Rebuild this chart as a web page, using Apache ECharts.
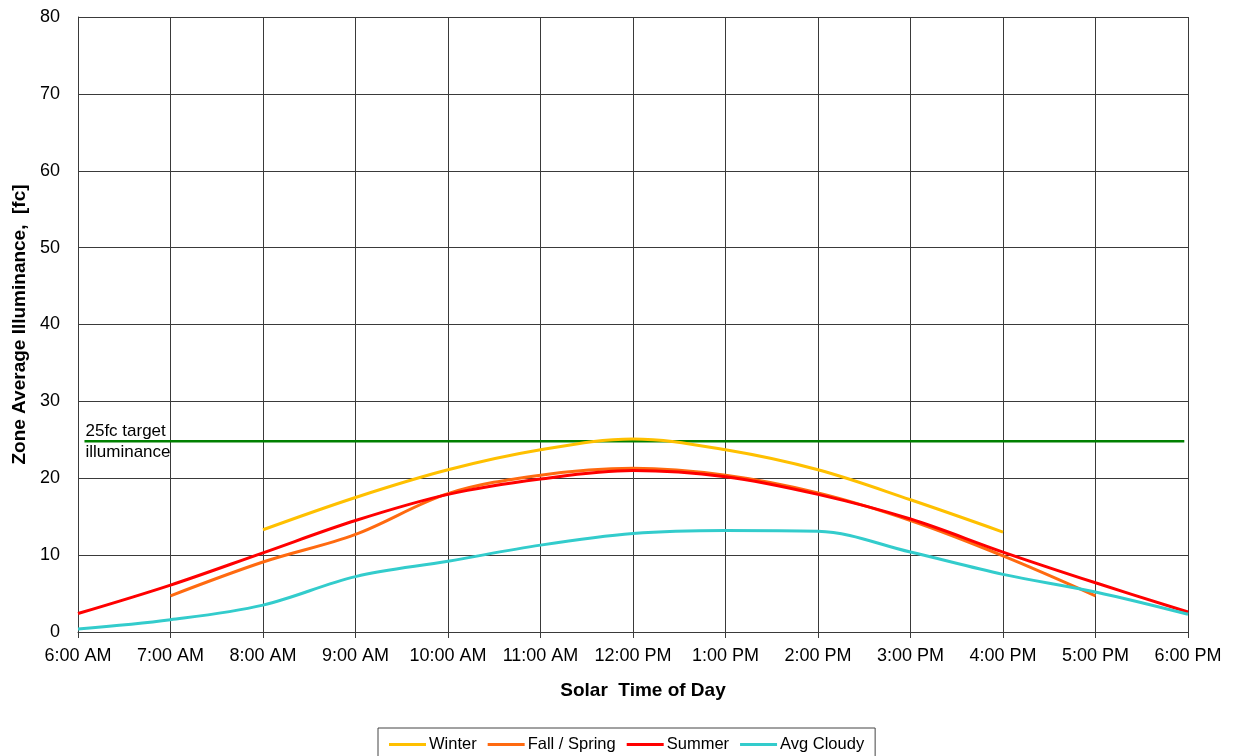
<!DOCTYPE html>
<html>
<head>
<meta charset="utf-8">
<script src="https://cdn.jsdelivr.net/npm/echarts@6/dist/echarts.min.js"></script>
<style>html,body{margin:0;padding:0;background:#fff;}#c{width:1233px;height:756px;}</style>
</head>
<body>
<div id="c"></div>
<script>
var hours = [6,7,8,9,10,11,12,13,14,15,16,17,18];
var tickLabels = ['6:00 AM','7:00 AM','8:00 AM','9:00 AM','10:00 AM','11:00 AM','12:00 PM','1:00 PM','2:00 PM','3:00 PM','4:00 PM','5:00 PM','6:00 PM'];
var winter = [null,null,13.3,17.5,21.1,23.7,25.1,23.7,21.1,17.2,13.0,null,null];
var fallSpring = [null,4.7,9.1,12.7,18.0,20.4,21.3,20.4,18.1,14.5,9.9,4.7,null];
var summer = [2.4,6.1,10.3,14.5,17.9,19.9,21.0,20.2,17.9,14.7,10.4,6.4,2.6];
var cloudy = [0.4,1.6,3.5,7.2,9.2,11.3,12.8,13.2,13.1,10.4,7.5,5.2,2.3];
var targetX = [6.07,17.96];
var targetY = [24.8,24.8];

function pairs(xs, ys){ var out=[]; for(var i=0;i<xs.length;i++){ if(ys[i]!==null) out.push([xs[i],ys[i]]); } return out; }

var FONT = 'Liberation Sans, Arial, sans-serif';
var GRID = '#3a3a3a';
var chart = echarts.init(document.getElementById('c'));
var targetData = pairs(targetX, targetY);
targetData[0] = {value: targetData[0], label:{show:true, formatter:'25fc target\nilluminance', position:'right', distance:1, fontSize:17, lineHeight:21, color:'#000', fontFamily:FONT, align:'left', verticalAlign:'middle'}};
chart.setOption({
  animation:false,
  textStyle:{fontFamily:FONT},
  grid:{left:78, right:45, top:17, bottom:124, containLabel:false, outerBoundsMode:'none'},
  xAxis:{
    type:'value', min:6, max:18, interval:1,
    name:'Solar  Time of Day', nameLocation:'middle', nameGap:49,
    nameTextStyle:{fontSize:19, fontWeight:'bold', color:'#000', fontFamily:FONT, padding:[0,0,0,20]},
    axisLine:{show:true, lineStyle:{color:GRID, width:1}},
    axisTick:{show:true, length:6, lineStyle:{color:GRID}},
    axisLabel:{fontSize:18, color:'#000', margin:15, fontFamily:FONT, formatter:function(v){ var i=hours.indexOf(Math.round(v)); return i>=0?tickLabels[i]:''; }},
    splitLine:{show:true, lineStyle:{color:GRID, width:1}}
  },
  yAxis:{
    type:'value', min:0, max:80, interval:10,
    name:'Zone Average Illuminance,  [fc]', nameLocation:'middle', nameGap:48,
    nameTextStyle:{fontSize:19, fontWeight:'bold', color:'#000', fontFamily:FONT},
    axisLine:{show:true, lineStyle:{color:GRID, width:1}},
    axisTick:{show:false},
    axisLabel:{fontSize:18, color:'#000', margin:18, fontFamily:FONT},
    splitLine:{show:true, lineStyle:{color:GRID, width:1}}
  },
  legend:{
    top:728, left:378, itemWidth:37, itemHeight:3, itemGap:11,
    borderColor:'#444', borderWidth:1, borderRadius:0, padding:[8,11,12,11],
    textStyle:{fontSize:16.5, color:'#000', fontFamily:FONT, padding:[0,0,0,-2]},
    icon:'rect',
    data:['Winter','Fall / Spring','Summer','Avg Cloudy']
  },
  series:[
    {name:'target', type:'line', data:targetData, symbol:'circle', symbolSize:0, showSymbol:true, lineStyle:{color:'#008000', width:2.5}, itemStyle:{color:'#008000'}, z:1},
    {name:'Winter', type:'line', data:pairs(hours,winter), smooth:0.35, symbol:'none', lineStyle:{color:'#FFC000', width:3}, itemStyle:{color:'#FFC000'}, z:2},
    {name:'Fall / Spring', type:'line', data:pairs(hours,fallSpring), smooth:0.35, symbol:'none', lineStyle:{color:'#FF6A10', width:3}, itemStyle:{color:'#FF6A10'}, z:3},
    {name:'Summer', type:'line', data:pairs(hours,summer), smooth:0.35, symbol:'none', lineStyle:{color:'#FF0000', width:3}, itemStyle:{color:'#FF0000'}, z:4},
    {name:'Avg Cloudy', type:'line', data:pairs(hours,cloudy), smooth:0.35, symbol:'none', lineStyle:{color:'#33CCCC', width:3}, itemStyle:{color:'#33CCCC'}, z:5}
  ]
});
</script>
</body>
</html>
